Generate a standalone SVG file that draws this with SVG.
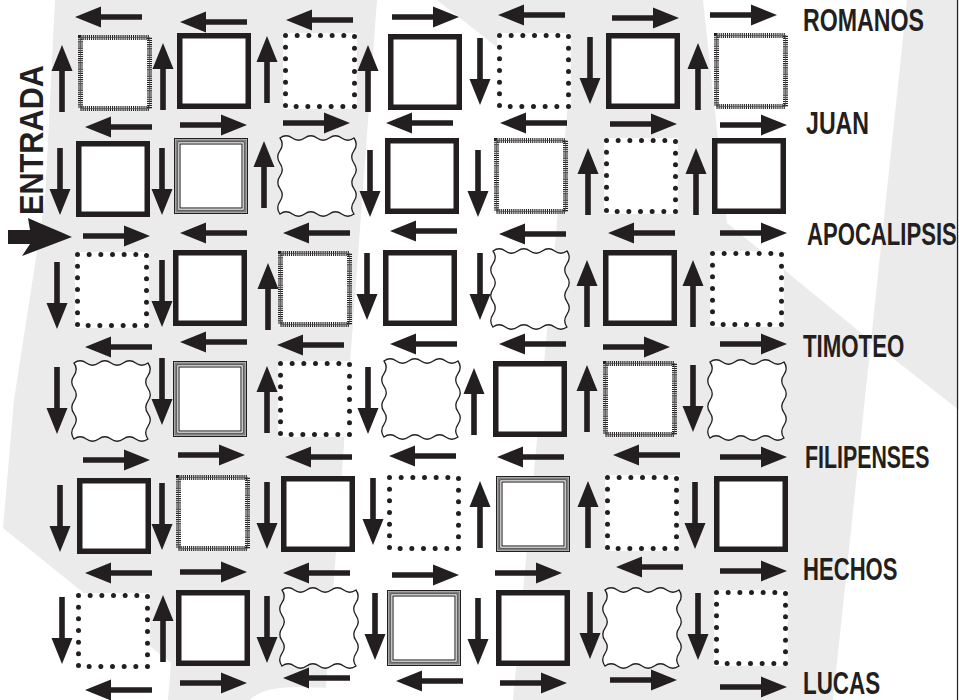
<svg xmlns="http://www.w3.org/2000/svg" width="959" height="700" viewBox="0 0 959 700">
<style>
.lbl{font-family:"Liberation Sans",Arial,sans-serif;font-weight:bold;font-size:30.5px;fill:#231f20}
.arr{fill:#231f20}
</style>
<defs>
<path id="ar" d="M0,-2.8H41V-10.5L67,0L41,10.5V2.8H0Z"/>
<g id="bS"><rect x="2.75" y="2.75" width="68.5" height="70.5" fill="#fff" stroke="#231f20" stroke-width="5.5"/></g>
<g id="bH"><rect x="2.5" y="2.5" width="69" height="71" fill="#fff" stroke="#231f20" stroke-width="5" stroke-dasharray="1.1 1"/><rect x="2.5" y="2.5" width="69" height="71" fill="none" stroke="#555" stroke-width="0.7"/></g>
<g id="bD"><rect width="74" height="76" fill="#fff"/><rect x="2.5" y="2.5" width="69" height="71" fill="none" stroke="#231f20" stroke-width="5" stroke-linecap="round" stroke-dasharray="0 11.667"/></g>
<g id="bT"><rect x="0.5" y="0.5" width="73" height="75" fill="#fff" stroke="#231f20" stroke-width="1"/><rect x="2.3" y="2.3" width="69.4" height="71.4" fill="none" stroke="#808080" stroke-width="2"/><rect x="3.8" y="3.8" width="66.4" height="68.4" fill="none" stroke="#231f20" stroke-width="0.9"/><rect x="6" y="6" width="62" height="64" fill="none" stroke="#231f20" stroke-width="1.1"/></g>
<g id="bW"><path d="M0,0q6.17,-4.5 12.33,0t12.33,0t12.33,0t12.33,0t12.33,0t12.33,0q4.5,6.33 0,12.67t0,12.67t0,12.67t0,12.67t0,12.67t0,12.67q-6.17,4.5 -12.33,0t-12.33,0t-12.33,0t-12.33,0t-12.33,0t-12.33,0q-4.5,-6.33 0,-12.67t0,-12.67t0,-12.67t0,-12.67t0,-12.67t0,-12.67Z" fill="#fff" stroke="#231f20" stroke-width="1.3"/></g>
</defs>

<g id="background">
<rect width="959" height="700" fill="#ebebeb"/>
<polygon points="0,0 55,0 45,200 14,400 3,528 171,663 168,700 0,700" fill="#fff"/>
<polygon points="377,0 437,0 568,103 513,700 325,700" fill="#fff"/>
<path d="M250,700C258,691 275,687 300,687L330,688L330,700Z" fill="#fff"/>
<polygon points="703,0 907,0 871,341 727,223" fill="#fff"/>
<polygon points="871,341 959,410 959,700 833,700" fill="#fff"/>
<line x1="957.5" y1="0" x2="957.5" y2="700" stroke="#231f20" stroke-width="1.2"/>
</g>

<g id="connectors" class="arr">
<use href="#ar" transform="translate(142,17) rotate(180)"/>
<use href="#ar" transform="translate(247,22) rotate(180)"/>
<use href="#ar" transform="translate(353,20) rotate(180)"/>
<use href="#ar" transform="translate(392,17)"/>
<use href="#ar" transform="translate(565,15) rotate(180)"/>
<use href="#ar" transform="translate(612,18)"/>
<use href="#ar" transform="translate(710,15)"/>
<use href="#ar" transform="translate(152,127) rotate(180)"/>
<use href="#ar" transform="translate(180,125)"/>
<use href="#ar" transform="translate(283,123)"/>
<use href="#ar" transform="translate(453,123) rotate(180)"/>
<use href="#ar" transform="translate(567,123) rotate(180)"/>
<use href="#ar" transform="translate(610,124)"/>
<use href="#ar" transform="translate(720,125)"/>
<use href="#ar" transform="translate(83,236)"/>
<use href="#ar" transform="translate(247,233) rotate(180)"/>
<use href="#ar" transform="translate(350,233) rotate(180)"/>
<use href="#ar" transform="translate(457,231) rotate(180)"/>
<use href="#ar" transform="translate(566,234) rotate(180)"/>
<use href="#ar" transform="translate(675,233) rotate(180)"/>
<use href="#ar" transform="translate(720,233)"/>
<use href="#ar" transform="translate(152,347) rotate(180)"/>
<use href="#ar" transform="translate(247,342) rotate(180)"/>
<use href="#ar" transform="translate(344,345) rotate(180)"/>
<use href="#ar" transform="translate(457,344) rotate(180)"/>
<use href="#ar" transform="translate(566,344) rotate(180)"/>
<use href="#ar" transform="translate(603,347)"/>
<use href="#ar" transform="translate(720,344)"/>
<use href="#ar" transform="translate(83,460)"/>
<use href="#ar" transform="translate(178,455)"/>
<use href="#ar" transform="translate(352,457) rotate(180)"/>
<use href="#ar" transform="translate(456,456) rotate(180)"/>
<use href="#ar" transform="translate(564,457) rotate(180)"/>
<use href="#ar" transform="translate(680,455) rotate(180)"/>
<use href="#ar" transform="translate(720,457)"/>
<use href="#ar" transform="translate(152,573) rotate(180)"/>
<use href="#ar" transform="translate(180,572)"/>
<use href="#ar" transform="translate(350,573) rotate(180)"/>
<use href="#ar" transform="translate(392,575)"/>
<use href="#ar" transform="translate(495,573)"/>
<use href="#ar" transform="translate(683,567) rotate(180)"/>
<use href="#ar" transform="translate(720,571)"/>
<use href="#ar" transform="translate(152,690) rotate(180)"/>
<use href="#ar" transform="translate(180,683)"/>
<use href="#ar" transform="translate(350,678) rotate(180)"/>
<use href="#ar" transform="translate(463,681) rotate(180)"/>
<use href="#ar" transform="translate(500,683)"/>
<use href="#ar" transform="translate(610,680)"/>
<use href="#ar" transform="translate(720,687)"/>
<use href="#ar" transform="translate(62,112) rotate(-90)"/>
<use href="#ar" transform="translate(163,110) rotate(-90)"/>
<use href="#ar" transform="translate(267,103) rotate(-90)"/>
<use href="#ar" transform="translate(368,112) rotate(-90)"/>
<use href="#ar" transform="translate(480,38) rotate(90)"/>
<use href="#ar" transform="translate(590,37) rotate(90)"/>
<use href="#ar" transform="translate(698,110) rotate(-90)"/>
<use href="#ar" transform="translate(60,148) rotate(90)"/>
<use href="#ar" transform="translate(162,148) rotate(90)"/>
<use href="#ar" transform="translate(264,208) rotate(-90)"/>
<use href="#ar" transform="translate(370,150) rotate(90)"/>
<use href="#ar" transform="translate(478,150) rotate(90)"/>
<use href="#ar" transform="translate(588,215) rotate(-90)"/>
<use href="#ar" transform="translate(696,215) rotate(-90)"/>
<use href="#ar" transform="translate(57,262) rotate(90)"/>
<use href="#ar" transform="translate(162,260) rotate(90)"/>
<use href="#ar" transform="translate(268,330) rotate(-90)"/>
<use href="#ar" transform="translate(367,253) rotate(90)"/>
<use href="#ar" transform="translate(480,253) rotate(90)"/>
<use href="#ar" transform="translate(587,327) rotate(-90)"/>
<use href="#ar" transform="translate(693,327) rotate(-90)"/>
<use href="#ar" transform="translate(57,367) rotate(90)"/>
<use href="#ar" transform="translate(162,358) rotate(90)"/>
<use href="#ar" transform="translate(267,433) rotate(-90)"/>
<use href="#ar" transform="translate(368,367) rotate(90)"/>
<use href="#ar" transform="translate(474,435) rotate(-90)"/>
<use href="#ar" transform="translate(587,432) rotate(-90)"/>
<use href="#ar" transform="translate(693,365) rotate(90)"/>
<use href="#ar" transform="translate(60,485) rotate(90)"/>
<use href="#ar" transform="translate(162,483) rotate(90)"/>
<use href="#ar" transform="translate(267,482) rotate(90)"/>
<use href="#ar" transform="translate(373,478) rotate(90)"/>
<use href="#ar" transform="translate(480,548) rotate(-90)"/>
<use href="#ar" transform="translate(588,548) rotate(-90)"/>
<use href="#ar" transform="translate(695,482) rotate(90)"/>
<use href="#ar" transform="translate(62,597) rotate(90)"/>
<use href="#ar" transform="translate(163,662) rotate(-90)"/>
<use href="#ar" transform="translate(267,596) rotate(90)"/>
<use href="#ar" transform="translate(375,593) rotate(90)"/>
<use href="#ar" transform="translate(478,598) rotate(90)"/>
<use href="#ar" transform="translate(590,592) rotate(90)"/>
<use href="#ar" transform="translate(698,593) rotate(90)"/>
<path d="M8,230H30L28,218C42,224 58,231 72,237L22,256L30,244H8Z"/>
</g>

<g id="r1c1"><use href="#bH" x="78" y="35"/></g>
<g id="r1c2"><use href="#bS" x="177" y="33"/></g>
<g id="r1c3"><use href="#bD" x="283" y="33"/></g>
<g id="r1c4"><use href="#bS" x="388" y="34"/></g>
<g id="r1c5"><use href="#bD" x="497" y="33"/></g>
<g id="r1c6"><use href="#bS" x="606" y="33"/></g>
<g id="r1c7"><use href="#bH" x="714" y="33"/></g>

<g id="r2c1"><use href="#bS" x="76" y="141"/></g>
<g id="r2c2"><use href="#bT" x="174" y="138"/></g>
<g id="r2c3"><use href="#bW" x="280" y="138"/></g>
<g id="r2c4"><use href="#bS" x="385" y="138"/></g>
<g id="r2c5"><use href="#bH" x="494" y="138"/></g>
<g id="r2c6"><use href="#bD" x="604" y="138"/></g>
<g id="r2c7"><use href="#bS" x="712" y="138"/></g>

<g id="r3c1"><use href="#bD" x="75" y="252"/></g>
<g id="r3c2"><use href="#bS" x="173" y="250"/></g>
<g id="r3c3"><use href="#bH" x="278" y="251"/></g>
<g id="r3c4"><use href="#bS" x="383" y="250"/></g>
<g id="r3c5"><use href="#bW" x="493" y="251"/></g>
<g id="r3c6"><use href="#bS" x="603" y="250"/></g>
<g id="r3c7"><use href="#bD" x="710" y="251"/></g>

<g id="r4c1"><use href="#bW" x="74" y="363"/></g>
<g id="r4c2"><use href="#bT" x="173" y="361"/></g>
<g id="r4c3"><use href="#bD" x="278" y="361"/></g>
<g id="r4c4"><use href="#bW" x="384" y="361"/></g>
<g id="r4c5"><use href="#bS" x="493" y="361"/></g>
<g id="r4c6"><use href="#bH" x="603" y="361"/></g>
<g id="r4c7"><use href="#bW" x="710" y="362"/></g>

<g id="r5c1"><use href="#bS" x="77" y="478"/></g>
<g id="r5c2"><use href="#bH" x="176" y="475"/></g>
<g id="r5c3"><use href="#bS" x="281" y="476"/></g>
<g id="r5c4"><use href="#bD" x="387" y="475"/></g>
<g id="r5c5"><use href="#bT" x="496" y="476"/></g>
<g id="r5c6"><use href="#bD" x="605" y="475"/></g>
<g id="r5c7"><use href="#bS" x="714" y="476"/></g>

<g id="r6c1"><use href="#bD" x="76" y="593"/></g>
<g id="r6c2"><use href="#bS" x="176" y="590"/></g>
<g id="r6c3"><use href="#bW" x="282" y="590"/></g>
<g id="r6c4"><use href="#bT" x="387" y="590"/></g>
<g id="r6c5"><use href="#bS" x="496" y="590"/></g>
<g id="r6c6"><use href="#bW" x="605" y="590"/></g>
<g id="r6c7"><use href="#bD" x="714" y="590"/></g>

<g id="labels">
<text class="lbl" transform="translate(803,31) scale(0.76,1)">ROMANOS</text>
<text class="lbl" transform="translate(806,134) scale(0.76,1)">JUAN</text>
<text class="lbl" transform="translate(807,245) scale(0.725,1)">APOCALIPSIS</text>
<text class="lbl" transform="translate(803,357) scale(0.73,1)">TIMOTEO</text>
<text class="lbl" transform="translate(805,468) scale(0.70,1)">FILIPENSES</text>
<text class="lbl" transform="translate(803,580) scale(0.725,1)">HECHOS</text>
<text class="lbl" transform="translate(803,694) scale(0.735,1)">LUCAS</text>
<text class="lbl" style="font-size:33px" transform="translate(43,215) rotate(-90) scale(0.93,1)">ENTRADA</text>
</g>
</svg>
